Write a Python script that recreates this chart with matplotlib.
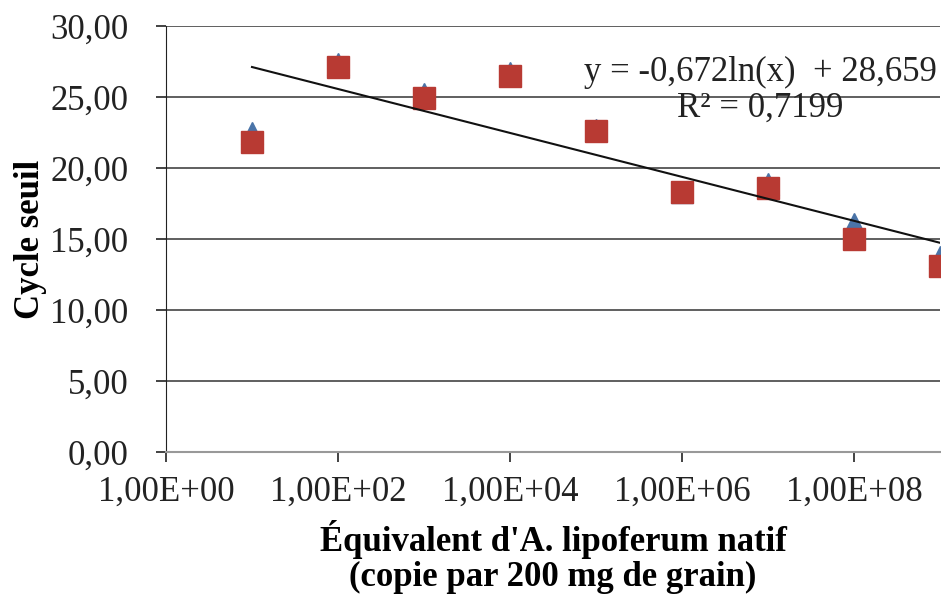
import matplotlib.pyplot as plt
import numpy as np
from matplotlib.ticker import FixedLocator, FuncFormatter, NullLocator

plt.rcParams['font.family'] = ['Liberation Serif', 'DejaVu Serif']

# copies par 200 mg de grain
copies = [1e1, 1e2, 1e3, 1e4, 1e5, 1e6, 1e7, 1e8, 1e9]
ct_serie1 = [22.5, 27.3, 25.2, 26.7, 22.7, 18.3, 18.9, 16.05, 13.7]
ct_serie2 = [21.8, 27.1, 24.9, 26.5, 22.6, 18.3, 18.6, 15.0, 13.1]

# courbe de tendance logarithmique
pente, origine = -0.672, 28.659
r2 = 0.7199

fig = plt.figure(figsize=(9.41, 6.02), dpi=100)
ax = fig.add_axes([166 / 941, 150 / 602, 774 / 941, 426 / 602])

ax.plot(copies, ct_serie1, linestyle='none', marker='^', markersize=16,
        color='#4A74A8', clip_on=False, zorder=3)
ax.plot(copies, ct_serie2, linestyle='none', marker='s', markersize=16.5,
        color='#B83A33', clip_on=False, zorder=4)

xt = np.logspace(1, 9, 100)
ax.plot(xt, pente * np.log(xt) + origine, color='#111111', linewidth=1.5, zorder=5)

ax.set_xscale('log')
ax.set_xlim(1, 1e9)
ax.set_ylim(0, 30)
ax.xaxis.set_major_locator(FixedLocator([1e0, 1e2, 1e4, 1e6, 1e8]))
ax.xaxis.set_minor_locator(NullLocator())
ax.xaxis.set_major_formatter(FuncFormatter(lambda v, p: f"{v:.2E}".replace('.', ',')))
ax.set_yticks(np.arange(0, 31, 5))
ax.yaxis.set_major_formatter(FuncFormatter(lambda v, p: f"{v:.2f}".replace('.', ',')))

ax.grid(axis='y', color='#444444', linewidth=1.2)
ax.set_axisbelow(True)
for s in ['top', 'right']:
    ax.spines[s].set_visible(False)
ax.spines['left'].set_color('#222222')
ax.spines['bottom'].set_color('#999999')
ax.spines['bottom'].set_linewidth(1.5)

ax.tick_params(axis='both', labelsize=25, colors='#222222', length=7, width=1.2)
ax.tick_params(axis='x', pad=10)
ax.tick_params(axis='y', pad=20)

ax.set_ylabel('Cycle seuil', fontsize=25, fontweight='bold', labelpad=2)
ax.set_xlabel("Équivalent d'A. lipoferum natif\n(copie par 200 mg de grain)",
              fontsize=25, fontweight='bold', labelpad=8, linespacing=1.1)

eq = f"y = {pente:.3f}ln(x)  + {origine:.3f}".replace('.', ',')
fig.text(760 / 941, 1 - 90 / 602, eq + "\n" + f"R² = {r2:.4f}".replace('.', ','),
         ha='center', va='center', fontsize=25, color='#222222', linespacing=1.1)

fig.savefig('out.png', dpi=100)
